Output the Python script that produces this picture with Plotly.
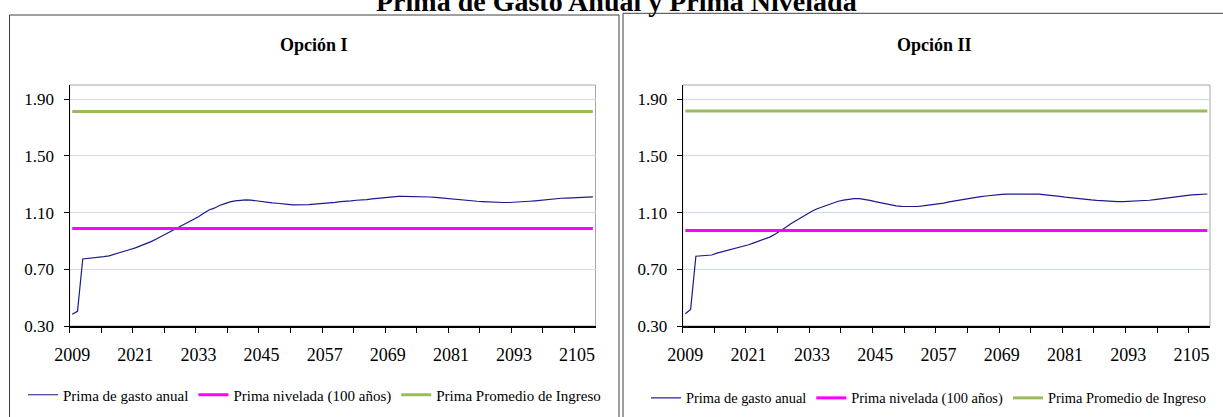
import plotly.graph_objects as go

# years on the category axis
years = list(range(2009, 2109))

# Opcion I - annual expense premium
gasto_op1 = [0.383, 0.404, 0.773, 0.776, 0.779, 0.783, 0.789, 0.795, 0.805, 0.816,
             0.828, 0.840, 0.851, 0.864, 0.877, 0.895, 0.914, 0.933, 0.953, 0.972,
             0.992, 1.011, 1.030, 1.050, 1.070, 1.095, 1.118, 1.131, 1.150, 1.163,
             1.176, 1.182, 1.186, 1.190, 1.188, 1.182, 1.177, 1.172, 1.168, 1.166,
             1.164, 1.158, 1.154, 1.154, 1.154, 1.156, 1.160, 1.162, 1.166, 1.168,
             1.172, 1.177, 1.178, 1.182, 1.187, 1.188, 1.192, 1.197, 1.201, 1.204,
             1.209, 1.213, 1.214, 1.214, 1.214, 1.214, 1.213, 1.212, 1.210, 1.207,
             1.203, 1.199, 1.196, 1.193, 1.190, 1.187, 1.183, 1.180, 1.178, 1.175,
             1.172, 1.171, 1.171, 1.171, 1.172, 1.173, 1.176, 1.180, 1.183, 1.187,
             1.191, 1.196, 1.199, 1.201, 1.202, 1.204, 1.204, 1.206, 1.209, 1.211]

# Opcion II - annual expense premium
gasto_op2 = [0.386, 0.417, 0.792, 0.795, 0.798, 0.801, 0.814, 0.824, 0.830, 0.839,
             0.849, 0.860, 0.873, 0.886, 0.899, 0.912, 0.927, 0.947, 0.968, 0.995,
             1.022, 1.045, 1.066, 1.090, 1.110, 1.127, 1.141, 1.154, 1.168, 1.180,
             1.188, 1.195, 1.199, 1.198, 1.193, 1.186, 1.177, 1.169, 1.161, 1.153,
             1.147, 1.144, 1.142, 1.142, 1.143, 1.147, 1.151, 1.156, 1.161, 1.167,
             1.175, 1.182, 1.187, 1.192, 1.198, 1.205, 1.212, 1.217, 1.222, 1.226,
             1.228, 1.230, 1.231, 1.232, 1.232, 1.232, 1.231, 1.230, 1.227, 1.223,
             1.219, 1.214, 1.209, 1.204, 1.200, 1.196, 1.192, 1.189, 1.186, 1.183,
             1.180, 1.179, 1.178, 1.177, 1.178, 1.179, 1.181, 1.184, 1.187, 1.192,
             1.197, 1.203, 1.209, 1.214, 1.218, 1.222, 1.225, 1.227, 1.229, 1.231]

# level premium (100 years) and average income premium
nivelada_op1 = 0.988
nivelada_op2 = 0.973
promedio_op1 = 1.813
promedio_op2 = 1.816

y_ticks = [0.30, 0.70, 1.10, 1.50, 1.90]
x_labels = list(range(2009, 2109, 12))
x_marks = [2008.5 + 6 * k for k in range(17)]

W, H = 1223, 417
FONT = "Liberation Serif"


def px(x):
    return x / W


def py(y):
    return 1 - y / H


fig = go.Figure()

panels = [
    ("x", "y", "legend", gasto_op1, nivelada_op1, promedio_op1),
    ("x2", "y2", "legend2", gasto_op2, nivelada_op2, promedio_op2),
]
for xa, ya, leg, gasto, niv, prom in panels:
    fig.add_trace(go.Scatter(x=years, y=gasto, mode="lines", name="Prima de gasto anual",
                             line=dict(color="#1a1a8c", width=1.2), xaxis=xa, yaxis=ya, legend=leg))
    fig.add_trace(go.Scatter(x=years, y=[niv] * len(years), mode="lines",
                             name="Prima nivelada (100 años)",
                             line=dict(color="#ff00ff", width=3), xaxis=xa, yaxis=ya, legend=leg))
    fig.add_trace(go.Scatter(x=years, y=[prom] * len(years), mode="lines",
                             name="Prima Promedio de Ingreso",
                             line=dict(color="#9bbb59", width=3), xaxis=xa, yaxis=ya, legend=leg))


def xaxis(domain, anchor):
    return dict(domain=domain, anchor=anchor, range=[2008.5, 2108.5],
                tickmode="array", tickvals=x_labels, ticktext=[str(v) for v in x_labels],
                ticks="", showgrid=False, zeroline=False,
                showline=True, linecolor="black", linewidth=1.5,
                tickfont=dict(family=FONT, size=18, color="black"),
                ticklabelstandoff=12,
                minor=dict(tickmode="array", tickvals=x_marks, ticks="outside",
                           ticklen=5, tickcolor="black", tickwidth=1, showgrid=False))


def yaxis(domain, anchor, grid):
    return dict(domain=domain, anchor=anchor, range=[0.3, 2.0],
                tickmode="array", tickvals=y_ticks, tickformat=".2f",
                ticks="outside", ticklen=5, tickcolor="black",
                showgrid=True, gridcolor=grid, gridwidth=1, zeroline=False,
                showline=True, linecolor="black", linewidth=1.2,
                tickfont=dict(family=FONT, size=17, color="black"),
                ticklabelstandoff=6)


ydom = [py(326), py(85)]
fig.update_layout(
    width=W, height=H,
    margin=dict(l=0, r=0, t=0, b=0, autoexpand=False),
    paper_bgcolor="white", plot_bgcolor="white",
    xaxis=xaxis([px(69.6), px(595.5)], "y"),
    yaxis=yaxis(ydom, "x", "#dcd6e6"),
    xaxis2=xaxis([px(682.7), px(1210)], "y2"),
    yaxis2=yaxis(ydom, "x2", "#c9dcf0"),
    legend=dict(orientation="h", x=px(23), y=py(395), xanchor="left", yanchor="middle",
                font=dict(family=FONT, size=15, color="black"),
                bgcolor="rgba(0,0,0,0)", itemwidth=30),
    legend2=dict(orientation="h", x=px(646), y=py(398), xanchor="left", yanchor="middle",
                 font=dict(family=FONT, size=14.4, color="black"),
                 bgcolor="rgba(0,0,0,0)", itemwidth=30),
    shapes=[
        # outer chart frames
        dict(type="rect", xref="paper", yref="paper", x0=px(9.5), x1=px(619), y0=py(420), y1=py(15),
             line=dict(color="#404040", width=1)),
        dict(type="rect", xref="paper", yref="paper", x0=px(623), x1=px(1240), y0=py(420), y1=py(13.3),
             line=dict(color="#404040", width=1)),
        # plot area borders
        dict(type="rect", xref="paper", yref="paper", x0=px(69.6), x1=px(595.5), y0=py(326), y1=py(85),
             line=dict(color="#a6a6a6", width=1), layer="below"),
        dict(type="rect", xref="paper", yref="paper", x0=px(682.7), x1=px(1210), y0=py(326), y1=py(85),
             line=dict(color="#a6a6a6", width=1), layer="below"),
    ],
    annotations=[
        dict(text="<b>Prima de Gasto Anual y Prima Nivelada</b>", xref="paper", yref="paper",
             x=px(616), y=py(19), xanchor="center", yanchor="bottom", showarrow=False,
             font=dict(family=FONT, size=28, color="black")),
        dict(text="<b>Opción I</b>", xref="paper", yref="paper",
             x=px(314), y=py(45), xanchor="center", yanchor="middle", showarrow=False,
             font=dict(family=FONT, size=18, color="black")),
        dict(text="<b>Opción II</b>", xref="paper", yref="paper",
             x=px(934.5), y=py(45), xanchor="center", yanchor="middle", showarrow=False,
             font=dict(family=FONT, size=18, color="black")),
    ],
)

# the page has a default body margin; drop it so the figure sits at the window origin
fig.write_html("out.html", config={"displayModeBar": False},
               post_script="document.body.style.margin='0';document.body.style.overflow='hidden';")
